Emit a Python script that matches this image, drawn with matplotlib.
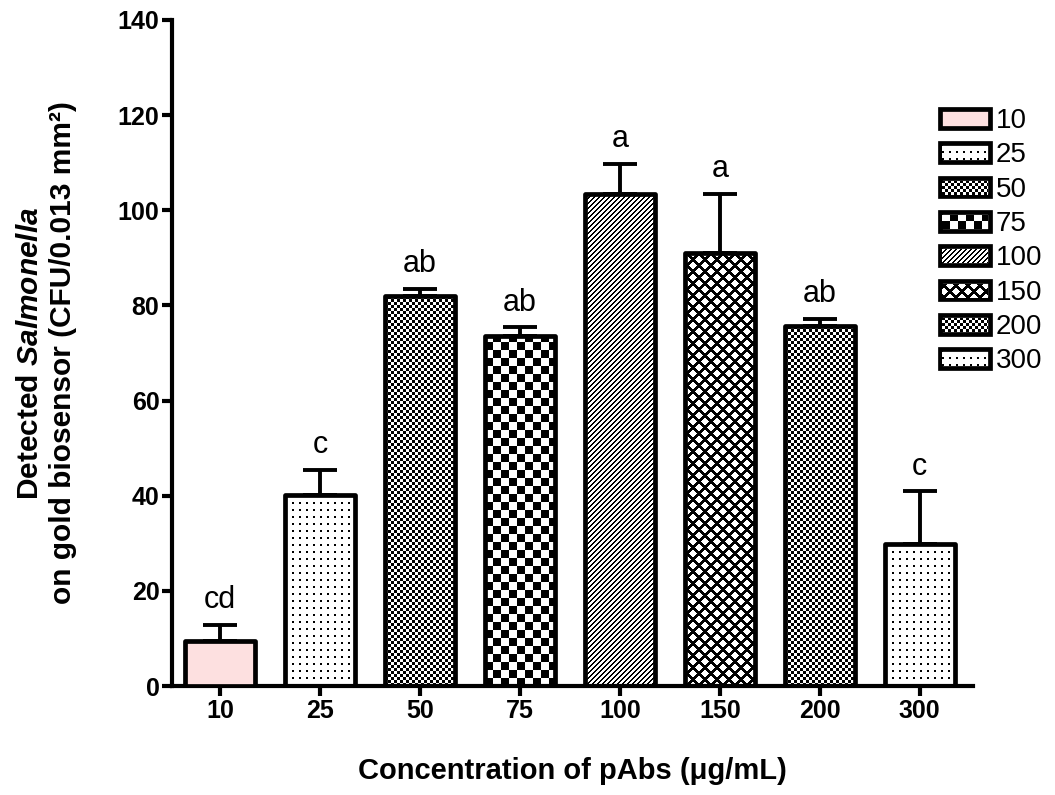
"""Bar chart of Salmonella captured on the gold biosensor vs. pAb concentration."""

import numpy as np
import matplotlib

matplotlib.use("Agg")
import matplotlib.pyplot as plt
from matplotlib.patches import Patch

plt.rcParams["font.family"] = ["Liberation Sans", "DejaVu Sans"]
plt.rcParams["mathtext.fontset"] = "custom"
plt.rcParams["mathtext.it"] = "Liberation Sans:italic:bold"
plt.rcParams["mathtext.rm"] = "Liberation Sans:bold"

# Data
concentrations = ["10", "25", "50", "75", "100", "150", "200", "300"]
means = [9.4, 40.1, 81.9, 73.5, 103.5, 91.1, 75.6, 29.8]
upper_err = [3.4, 5.4, 1.5, 1.9, 6.3, 12.4, 1.6, 11.1]
letters = ["cd", "c", "ab", "ab", "a", "a", "ab", "c"]
textures = ["pink", "dots", "fine", "coarse", "diag", "cross", "fine", "dots"]

PINK = "#fde0e0"
EDGE_LW = 3.4


def texture_array(kind, nx, ny):
    """Return a 0/1 array (1 = white) of ny rows by nx columns."""
    i, j = np.indices((ny, nx))
    if kind == "dots":
        black = (i % 7 < 2) & (j % 7 < 2)
    elif kind == "fine":
        black = ((i // 3 + j // 3) % 2) == 0
    elif kind == "coarse":
        black = ((i // 8 + j // 8) % 2) == 0
    elif kind == "diag":
        black = ((j - i) % 5) < 2
    elif kind == "cross":
        black = (((i + j) % 12) < 4) | (((j - i) % 12) < 4)
    else:
        black = np.zeros((ny, nx), dtype=bool)
    return (~black).astype(float)


def fill_bar(ax, bar, kind):
    """Paint a pixel texture inside one bar, clipped to its outline."""
    x0, y0 = bar.get_x(), bar.get_y()
    x1, y1 = x0 + bar.get_width(), y0 + bar.get_height()
    (px0, py0), (px1, py1) = ax.transData.transform([(x0, y0), (x1, y1)])
    nx, ny = max(int(round(px1 - px0)), 1), max(int(round(py1 - py0)), 1)
    ax.imshow(texture_array(kind, nx, ny), cmap="gray", vmin=0, vmax=1,
              extent=(x0, x1, y0, y1), origin="lower", aspect="auto",
              interpolation="nearest", clip_path=bar, zorder=2)


fig = plt.figure(figsize=(10.55, 7.95), dpi=100)
ax = fig.add_axes([0.163, 0.137, 0.759, 0.838])

x = np.arange(len(concentrations))
ax.set_xlim(-0.48, 7.53)
ax.set_ylim(0, 140)
ax.autoscale(False)

bars = ax.bar(x, means, width=0.7, facecolor="none", edgecolor="black",
              linewidth=EDGE_LW, zorder=3)
for bar, kind in zip(bars, textures):
    bar.set_joinstyle("round")
    if kind == "pink":
        bar.set_facecolor(PINK)
    else:
        fill_bar(ax, bar, kind)

ax.errorbar(x, means, yerr=[np.zeros(len(means)), upper_err], fmt="none",
            ecolor="black", elinewidth=2.8, capsize=12.5, capthick=2.8,
            zorder=2.5)

for xi, m, e, lab in zip(x, means, upper_err, letters):
    ax.annotate(lab, (xi, m + e), xytext=(0, 7), textcoords="offset points",
                ha="center", va="bottom", fontsize=22)

# Axes styling
for side in ("top", "right"):
    ax.spines[side].set_visible(False)
for side in ("left", "bottom"):
    ax.spines[side].set_linewidth(3)
ax.set_xticks(x, concentrations)
ax.set_yticks(np.arange(0, 141, 20))
ax.tick_params(width=3, length=7, labelsize=18, pad=2)
for lbl in ax.get_xticklabels() + ax.get_yticklabels():
    lbl.set_fontweight("bold")

ax.set_xlabel("Concentration of pAbs (\u03bcg/mL)", fontsize=21,
              fontweight="bold")
ax.xaxis.set_label_coords(0.5, -0.106)
ax.set_ylabel("Detected $\\it{Salmonella}$\non gold biosensor (CFU/0.013 mm\u00b2)",
              fontsize=21.5, fontweight="bold", linespacing=1.25)
ax.yaxis.set_label_coords(-0.118, 0.5)

# Legend with textured swatches
handles = [Patch(facecolor=PINK if k == "pink" else "white", edgecolor="black",
                 linewidth=EDGE_LW, joinstyle="round") for k in textures]
leg = fig.legend(handles, concentrations, loc="upper left",
                 bbox_to_anchor=(940 / 1055, 1 - 108 / 795), frameon=False,
                 fontsize=20, handlelength=1.8, handleheight=0.65,
                 handletextpad=0.2, labelspacing=0.3, borderpad=0,
                 borderaxespad=0)

fig.canvas.draw()
for handle, kind in zip(leg.legend_handles, textures):
    if kind == "pink":
        continue
    bb = handle.get_window_extent()
    nx, ny = int(bb.width) - 4, int(bb.height) - 4
    fig.figimage(texture_array(kind, nx, ny), xo=int(bb.x0) + 2,
                 yo=int(bb.y0) + 2, origin="lower", cmap="gray",
                 vmin=0, vmax=1, zorder=10)

fig.savefig("out.png", dpi=100)
